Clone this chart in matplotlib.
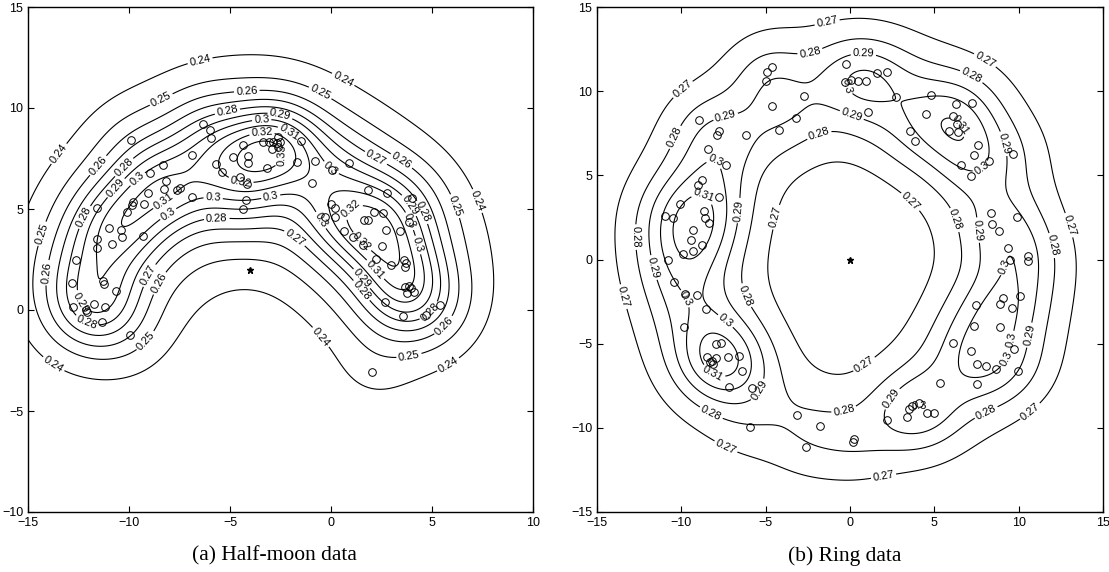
import numpy as np
import matplotlib.pyplot as plt

plt.rcParams['font.family'] = 'Liberation Sans'

# half-moon samples
moon_x = [-6.34, -5.99, -5.94, -9.92, -6.9, -8.3, -8.96, -8.18, -8.25, -7.64, -7.5, -9.04, -9.26,
          -9.82, -9.87, -10.08, -11.6, -11.0, -10.41, -10.35, -10.83, -9.32, -11.6, -11.6, -12.6,
          -6.88, -5.71, -5.41, -4.87, -4.34, -4.09, -4.09, -3.18, -4.5, -4.17, -4.21, -4.37,
          -3.35, -3.07, -2.69, -2.94, -2.86, -2.61, -2.52, -2.61, -1.49, -1.7, -0.79, 0.03, 0.91,
          -0.92, 1.82, 2.76, 4.03, 0.0, 0.2, -0.3, 0.2, 2.15, 2.56, 1.65, 1.85, 2.72, 0.66, 1.11,
          1.57, 2.51, 3.42, 3.86, 2.23, 2.95, 3.61, 3.71, 3.66, 3.66, 3.86, 3.98, 4.12, 3.75,
          2.69, 3.58, 4.69, 5.4, 2.05, -12.84, -11.3, -11.24, -10.66, -12.75, -12.13, -12.06,
          -11.72, -11.19, -11.35, -9.95]
moon_y = [9.21, 8.91, 8.51, 8.42, 7.67, 7.18, 6.77, 6.4, 5.99, 5.94, 6.05, 5.78, 5.25,
          5.36, 5.2, 4.87, 5.03, 4.04, 3.96, 3.63, 3.25, 3.68, 3.5, 3.05, 2.48,
          5.58, 7.21, 6.81, 7.59, 8.17, 7.6, 7.3, 7.01, 6.6, 6.22, 5.45, 4.98,
          8.33, 8.32, 8.25, 7.97, 8.33, 8.58, 8.33, 8.09, 8.38, 7.34, 7.39, 6.93, 7.29,
          6.27, 5.94, 5.81, 5.53, 5.23, 5.03, 4.62, 4.59, 4.84, 4.79, 4.46, 4.46, 3.96, 3.93, 3.63,
          3.22, 3.17, 3.91, 4.37, 2.51, 2.23, 2.48, 2.31, 2.14, 1.16, 1.19, 1.07, 0.88, 0.83,
          0.41, -0.3, -0.25, 0.25, -3.05, 1.32, 1.45, 1.29, 0.94, 0.13, 0.0, -0.08,
          0.3, 0.13, -0.61, -1.24]
moon_center = (-4.0, 2.0)

# ring samples
ring_x = [-5.0, -4.91, -4.65, -8.94, -7.76, -7.91, -8.41, -7.38, -6.19, -4.65, -2.73, -3.2, -4.2,
          -8.77, -9.0, -7.76, -10.09, -10.96, -10.52, -8.65, -8.6, -8.37, -9.3, -9.44, -9.3, -8.77,
          -9.93, -10.78, -10.43, -9.77, -9.06, -8.56, -9.83, -7.95, -7.66, -8.45, -8.21, -7.95,
          -8.11, -8.31, -7.26, -6.59, -6.41, -7.17, -5.79, -5.93, -3.13, -1.8, -2.61,
          0.2, 0.24, 2.18, 3.4, 3.52, 3.7, 4.11, 4.58, 4.98, 5.34, 6.13, 7.48, 7.38, 7.16, 7.52,
          8.09, 8.66, 7.52, 8.9, 9.1, 8.9, 9.59, 10.05, 9.73, 9.99,
          -0.26, -0.3, 0.04, 0.49, 0.93, 1.58, 2.18, 2.71, 1.09, 4.79, 4.49, 6.27, 7.26, 6.13,
          5.88, 6.39, 6.33, 3.56, 3.86, 7.58, 7.36, 6.59, 8.27, 7.18, 9.66, 8.37, 8.41, 8.84,
          9.89, 9.39, 9.5, 10.58, 10.58]
ring_y = [10.58, 11.13, 11.43, 8.26, 7.66, 7.37, 6.58, 5.63, 7.39, 9.09, 9.73, 8.42, 7.7,
          4.74, 4.4, 3.74, 3.31, 2.57, 2.48, 2.91, 2.48, 2.18, 1.78, 1.17, 0.53, 0.89,
          0.3, -0.02, -1.31, -2.04, -2.1, -2.97, -4.02, -5.01, -4.97, -5.8, -6.0, -5.84,
          -6.2, -6.1, -5.8, -5.76, -6.6, -7.55, -7.62, -9.96, -9.21, -9.9, -11.11,
          -10.85, -10.65, -9.53, -9.33, -8.87, -8.73, -8.52, -9.13, -9.13, -7.35, -4.97, -2.73,
          -3.98, -5.41, -6.2, -6.3, -6.5, -7.39, -4.02, -2.28, -2.63, -2.87, -2.18, -5.31, -6.6,
          11.59, 10.54, 10.64, 10.59, 10.59, 11.07, 11.13, 9.64, 8.79, 9.8, 8.65, 9.21, 9.29, 8.5,
          7.66, 7.57, 8.02, 7.66, 7.03, 6.83, 6.22, 5.63, 5.84, 4.99, 6.28, 2.77, 2.08, 1.72,
          2.51, 0.7, -0.02, 0.18, -0.1]
ring_center = (0.0, 0.0)

moon_levels = [0.24, 0.25, 0.26, 0.27, 0.28, 0.29, 0.3, 0.31, 0.32, 0.33, 0.34]
ring_levels = [0.27, 0.28, 0.29, 0.3, 0.31]

# contour label positions, with their level
moon_lab_x = [-13.91, -6.49, 0.59, 7.38, 6.04, -0.79, -14.1,
              -8.32, -14.41, -0.54, 6.04, 3.91, -9.21,
              -4.16, 3.42, -11.44, -13.91, -8.63, 5.56,
              -5.16, 2.26, -12.26, -9.04, 5.07, -1.87,
              -10.11, -2.52, 4.41, -5.66, 1.44, -12.01,
              -3.43, -10.53, -5.83, 3.91, 1.35, -12.01,
              -2.03, -9.46, -8.14, -0.63, 4.32,
              -3.43, -3.02, 3.83, -8.38,
              -4.5, -0.21, 2.26,
              -2.36, 0.78, 1.77]
moon_lab_y = [8.07, 12.38, 11.39, 5.45, -3.12, -1.58, -3.22,
              10.25, 3.81, 10.74, 5.1, -2.57, -1.49,
              10.74, 7.28, 7.08, 1.83, 1.4, -0.74,
              9.98, 7.59, 4.62, 1.73, -0.25, 3.47,
              6.93, 9.65, 4.79, 4.7, 0.91, -0.41,
              9.41, 5.94, 5.61, 5.2, 1.4, 0.58,
              8.83, 6.35, 4.87, 4.37, 3.22,
              8.91, 5.78, 4.37, 5.53,
              6.19, 6.77, 2.06,
              7.67, 5.28, 3.63]
moon_lab_v = [0.24] * 7 + [0.25] * 6 + [0.26] * 6 + [0.27] * 6 + [0.28] * 6 + [0.29] * 6 + \
             [0.3] * 5 + [0.31] * 4 + [0.32] * 3 + [0.33] * 2 + [0.34]

# extra points (used for fitting only)
moon_trace_x = [-15.0, -15.0, -4.5, -3.5, 2.26, -11.1, -7.06, 8.37, 7.05, 2.09]
moon_trace_y = [5.94, -2.3, 1.4, 1.24, -4.7, -4.04, -1.07, 2.48, 2.48, -2.48]
moon_trace_v = [0.24, 0.24, 0.24, 0.24, 0.24, 0.24, 0.24, 0.24, 0.25, 0.25]

ring_lab_x = [-10.19, -1.38, 8.11, 13.25, 10.88, 1.98, -7.52, -13.55, -4.35, 3.66, 1.09,
              -2.37, -10.39, -12.76, -8.21, 8.11, 11.97, 7.12, -1.88, 6.13, 2.08, -0.1, -6.43,
              -7.42, -6.63, -5.54, 0.79, 0.2, 9.1, 7.32, 10.78, -11.57,
              -7.42, -7.52, -9.99, 7.91, 8.71, 9.5, 3.36, -0.1,
              -8.5, -7.91, 6.63, 8.8]
ring_lab_y = [10.44, 14.2, 12.02, 2.12, -9.27, -12.83, -11.45, -2.24, 2.51, 3.51, -6.6,
              12.32, 7.27, 1.33, -9.07, -9.17, 0.83, 10.73, 7.57, 2.32, -7.98, -10.16, -2.24,
              8.66, 2.91, -7.68, 12.02, 8.85, 6.87, 1.72, -4.52, -0.46,
              7.07, -3.82, -2.44, 5.29, -0.26, -6.0, -8.87, 10.34,
              4.2, -6.4, 8.06, -4.62]
ring_lab_v = [0.27] * 11 + [0.28] * 12 + [0.29] * 9 + [0.3] * 8 + [0.31] * 4

ring_trace_x = [-5.14, -0.79]
ring_trace_y = [-0.06, -6.89]
ring_trace_v = [0.27, 0.27]


def kernel_sum(px, py, gx, gy, s):
    px = np.asarray(px)
    py = np.asarray(py)
    d2 = (np.asarray(gx)[..., None] - px) ** 2 + (np.asarray(gy)[..., None] - py) ** 2
    return np.exp(-d2 / (2 * s * s)).mean(-1)


def fit_field(px, py, fx, fy, fv):
    # narrow + wide kernel, widths and weights picked so the read points sit on their levels
    fv = np.asarray(fv)
    best = None
    for s1 in np.arange(1.0, 3.01, 0.2):
        g1 = kernel_sum(px, py, fx, fy, s1)
        for s2 in np.arange(3.0, 9.01, 0.5):
            g2 = kernel_sum(px, py, fx, fy, s2)
            A = np.column_stack([np.ones_like(g1), g1, g2])
            coef = np.linalg.lstsq(A, fv, rcond=None)[0]
            if coef[1] < 0 or coef[2] < 0:
                continue
            err = np.sum((A @ coef - fv) ** 2)
            if best is None or err < best[0]:
                best = (err, s1, s2, coef)
    return best[1:]


def draw(ax, px, py, center, levels, lx, ly, lv, tx, ty, tv, lim):
    s1, s2, coef = fit_field(px, py, lx + tx, ly + ty, lv + tv)
    gx, gy = np.meshgrid(np.linspace(lim[0], lim[1], 300), np.linspace(lim[2], lim[3], 300))
    z = coef[0] + coef[1] * kernel_sum(px, py, gx, gy, s1) + coef[2] * kernel_sum(px, py, gx, gy, s2)
    cs = ax.contour(gx, gy, z, levels=levels, colors='k', linewidths=0.8)
    ax.clabel(cs, fmt=lambda v: f'{v:g}', fontsize=8, inline=True, inline_spacing=2,
              manual=list(zip(lx, ly)))
    ax.plot(px, py, 'o', ms=5.5, mfc='none', mec='k', mew=0.7)
    ax.plot(*center, '*', ms=5, color='k')
    ax.set_xlim(lim[0], lim[1])
    ax.set_ylim(lim[2], lim[3])
    ax.tick_params(direction='in', top=True, right=True, labelsize=9, length=4)
    for sp in ax.spines.values():
        sp.set_linewidth(1.0)


fig = plt.figure(figsize=(11.09, 5.72), dpi=100)
ax1 = fig.add_axes([28 / 1109, 60 / 572, 505 / 1109, 505 / 572])
ax2 = fig.add_axes([597 / 1109, 60 / 572, 506 / 1109, 505 / 572])

draw(ax1, moon_x, moon_y, moon_center, moon_levels, moon_lab_x, moon_lab_y, moon_lab_v,
     moon_trace_x, moon_trace_y, moon_trace_v, (-15, 10, -10, 15))
draw(ax2, ring_x, ring_y, ring_center, ring_levels, ring_lab_x, ring_lab_y, ring_lab_v,
     ring_trace_x, ring_trace_y, ring_trace_v, (-15, 15, -15, 15))
ax1.set_xticks([-15, -10, -5, 0, 5, 10])
ax1.set_yticks([-10, -5, 0, 5, 10, 15])
ax2.set_xticks([-15, -10, -5, 0, 5, 10, 15])
ax2.set_yticks([-15, -10, -5, 0, 5, 10, 15])

fig.text(274 / 1109, 1 - 556 / 572, '(a) Half-moon data', ha='center', va='center',
         family='Liberation Serif', fontsize=15.5)
fig.text(845 / 1109, 1 - 556 / 572, '(b) Ring data', ha='center', va='center',
         family='Liberation Serif', fontsize=15.5)

fig.savefig('out.png', dpi=100)
